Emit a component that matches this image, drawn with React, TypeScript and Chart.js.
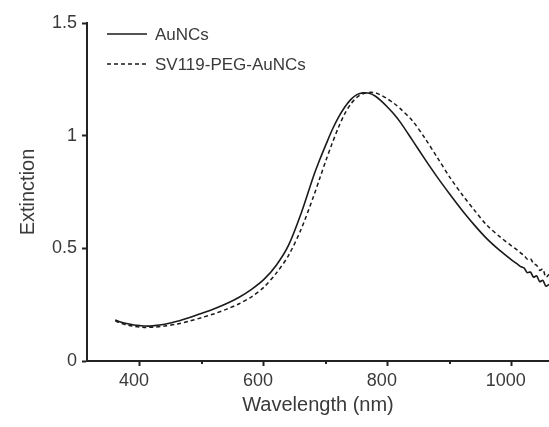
import React, { useEffect, useRef } from "react";
import { Chart, registerables } from "chart.js";

Chart.register(...registerables);

const wavelengths = [360, 370, 380, 390, 400, 410, 420, 440, 460, 480, 500, 520, 540, 560, 580, 600, 620, 640, 660, 680, 690, 700, 710, 720, 730, 740, 750, 760, 770, 780, 790, 800, 810, 820, 840, 860, 880, 900, 920, 940, 960, 980, 1000, 1010, 1015, 1020, 1025, 1030, 1035, 1040, 1045, 1050, 1055, 1060];

const auncs = [0.182, 0.172, 0.165, 0.16, 0.157, 0.155, 0.156, 0.163, 0.176, 0.193, 0.212, 0.232, 0.255, 0.283, 0.318, 0.362, 0.425, 0.515, 0.655, 0.82, 0.893, 0.96, 1.025, 1.08, 1.125, 1.16, 1.182, 1.19, 1.188, 1.175, 1.152, 1.125, 1.095, 1.06, 0.978, 0.895, 0.815, 0.74, 0.668, 0.602, 0.542, 0.492, 0.448, 0.428, 0.418, 0.412, 0.392, 0.395, 0.372, 0.378, 0.352, 0.358, 0.332, 0.34];

const sv119PegAuncs = [0.178, 0.167, 0.159, 0.154, 0.151, 0.149, 0.15, 0.155, 0.164, 0.177, 0.193, 0.21, 0.23, 0.254, 0.285, 0.328, 0.39, 0.47, 0.585, 0.73, 0.81, 0.89, 0.965, 1.035, 1.095, 1.14, 1.17, 1.186, 1.192, 1.19, 1.178, 1.162, 1.143, 1.12, 1.065, 0.988, 0.902, 0.815, 0.738, 0.668, 0.602, 0.553, 0.51, 0.49, 0.478, 0.468, 0.452, 0.455, 0.432, 0.425, 0.402, 0.408, 0.372, 0.385];

const seriesLabels = ["AuNCs", "SV119-PEG-AuNCs"];
const xMajorTicks = [400, 600, 800, 1000];
const xMinorTicks = [500, 700, 900];
const yTicks = [0, 0.5, 1, 1.5];

const FONT = "'Liberation Sans', Arial, Helvetica, sans-serif";
const AXIS_COLOR = "#222";
const TEXT_COLOR = "#3a3a3a";

const extrasPlugin = {
  id: "extras",
  afterDraw(chart: any) {
    const ctx = chart.ctx;
    const xs = chart.scales.x;
    ctx.save();
    // minor ticks
    ctx.strokeStyle = AXIS_COLOR;
    ctx.lineWidth = 2;
    xMinorTicks.forEach((v) => {
      const px = Math.round(xs.getPixelForValue(v));
      ctx.beginPath();
      ctx.moveTo(px, xs.top);
      ctx.lineTo(px, xs.top + 3);
      ctx.stroke();
    });
    // legend
    const items = chart.data.datasets;
    const x0 = 107;
    const x1 = 147;
    const ys = [34, 64];
    ctx.font = `17px ${FONT}`;
    ctx.textBaseline = "middle";
    ctx.fillStyle = TEXT_COLOR;
    items.forEach((ds: any, i: number) => {
      ctx.beginPath();
      ctx.lineWidth = 1.5;
      ctx.strokeStyle = ds.borderColor;
      ctx.setLineDash(ds.borderDash || []);
      ctx.moveTo(x0, ys[i]);
      ctx.lineTo(x1, ys[i]);
      ctx.stroke();
      ctx.setLineDash([]);
      ctx.fillText(ds.label, 155, ys[i] + 1);
    });
    ctx.restore();
  },
};

export default function App() {
  const ref = useRef<HTMLCanvasElement | null>(null);

  useEffect(() => {
    document.body.style.margin = "0";
    const canvas = ref.current;
    if (!canvas) return;
    const chart = new Chart(canvas, {
      type: "line",
      data: {
        datasets: [
          {
            label: seriesLabels[0],
            data: wavelengths.map((w, i) => ({ x: w, y: auncs[i] })),
            borderColor: "#1a1a1a",
            borderWidth: 1.6,
            pointRadius: 0,
            tension: 0.3,
            fill: false,
          },
          {
            label: seriesLabels[1],
            data: wavelengths.map((w, i) => ({ x: w, y: sv119PegAuncs[i] })),
            borderColor: "#1a1a1a",
            borderWidth: 1.5,
            borderDash: [4, 3],
            pointRadius: 0,
            tension: 0.3,
            fill: false,
          },
        ],
      },
      options: {
        responsive: false,
        animation: false,
        devicePixelRatio: 1,
        layout: { padding: { top: 23, right: 0, left: 0, bottom: 0 } },
        plugins: {
          legend: { display: false },
          tooltip: { enabled: false },
        },
        scales: {
          x: {
            type: "linear",
            min: 314.5,
            max: 1060,
            afterBuildTicks: (scale: any) => {
              scale.ticks = xMajorTicks.map((v) => ({ value: v }));
            },
            afterFit: (scale: any) => {
              scale.height = 66;
            },
            border: { display: true, color: AXIS_COLOR, width: 2 },
            grid: {
              display: true,
              drawOnChartArea: false,
              drawTicks: true,
              tickLength: 5,
              tickWidth: 2,
              tickColor: AXIS_COLOR,
            },
            ticks: {
              color: TEXT_COLOR,
              font: { family: FONT, size: 18 },
              padding: 4,
              maxRotation: 0,
              autoSkip: false,
              labelOffset: -6,
              callback: (v: any) => String(v),
            },
            title: {
              display: true,
              text: "Wavelength (nm)",
              color: TEXT_COLOR,
              font: { family: FONT, size: 20 },
              padding: { top: 0, bottom: 10 },
            },
          },
          y: {
            type: "linear",
            min: 0,
            max: 1.5,
            afterBuildTicks: (scale: any) => {
              scale.ticks = yTicks.map((v) => ({ value: v }));
            },
            afterFit: (scale: any) => {
              scale.width = 87;
            },
            border: { display: true, color: AXIS_COLOR, width: 2 },
            grid: {
              display: true,
              drawOnChartArea: false,
              drawTicks: true,
              tickLength: 5,
              tickWidth: 2,
              tickColor: AXIS_COLOR,
            },
            ticks: {
              color: TEXT_COLOR,
              font: { family: FONT, size: 18 },
              padding: 5,
              autoSkip: false,
              callback: (v: any) => String(v),
            },
            title: {
              display: true,
              text: "Extinction",
              color: TEXT_COLOR,
              font: { family: FONT, size: 20 },
              padding: { top: 16, bottom: 0 },
            },
          },
        },
      },
      plugins: [extrasPlugin],
    });
    return () => chart.destroy();
  }, []);

  return (
    <div style={{ position: "absolute", left: 0, top: 0, width: 549, height: 427, background: "#fff" }}>
      <canvas ref={ref} width={549} height={427} />
    </div>
  );
}
